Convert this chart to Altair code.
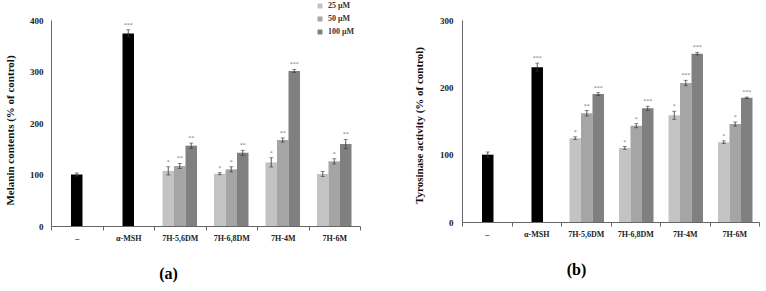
import altair as alt
import pandas as pd

categories = ["–", "α-MSH", "7H-5,6DM", "7H-6,8DM", "7H-4M", "7H-6M"]
controls = categories[:2]
compounds = categories[2:]
doses = ["25 μM", "50 μM", "100 μM"]

# Melanin contents (% of control)
mel_ctrl = [100, 374]
mel_ctrl_err = [3, 7]
mel_ctrl_star = ["", "***"]
mel_25 = [107, 101.5, 123.5, 101]
mel_50 = [116.5, 110, 167, 125.5]
mel_100 = [156, 142, 301, 159]
mel_25_err = [8, 2, 9, 5]
mel_50_err = [5, 5, 4, 5]
mel_100_err = [5, 5, 3, 9]
mel_25_star = ["*", "*", "*", ""]
mel_50_star = ["**", "*", "**", "*"]
mel_100_star = ["**", "**", "***", "**"]

# Tyrosinase activity (% of control)
tyr_ctrl = [100, 230]
tyr_ctrl_err = [4, 6]
tyr_ctrl_star = ["", "***"]
tyr_25 = [124.5, 110, 158.5, 118.5]
tyr_50 = [161.5, 143, 206.5, 145.5]
tyr_100 = [190, 169, 250, 184.5]
tyr_25_err = [2, 2, 6, 2]
tyr_50_err = [4, 3, 4, 3]
tyr_100_err = [2, 3, 2, 1]
tyr_25_star = ["*", "*", "*", "*"]
tyr_50_star = ["**", "*", "***", "*"]
tyr_100_star = ["***", "***", "***", "***"]

FONT = "Liberation Serif"
colors = ["#c3c3c3", "#a5a5a5", "#808080", "#000000"]


def build(ctrl, ctrl_err, ctrl_star, series, errs, stars):
    rows = []
    for c, v, e, s in zip(controls, ctrl, ctrl_err, ctrl_star):
        rows.append(dict(cat=c, dose="50 μM", series="ctrl", value=v, lo=v - e, hi=v + e, star=s))
    for d, vals, es, ss in zip(doses, series, errs, stars):
        for c, v, e, s in zip(compounds, vals, es, ss):
            rows.append(dict(cat=c, dose=d, series=d, value=v, lo=v - e, hi=v + e, star=s))
    return pd.DataFrame(rows)


def panel(df, ymax, ytitle, label, width, height, lx, ly, lpad, tpad, ty, dx):
    base = alt.Chart(df)
    x = alt.X("cat:N", sort=categories, scale=alt.Scale(paddingInner=0, paddingOuter=0),
              axis=alt.Axis(title=None, labelAngle=0, tickBand="extent", tickSize=4,
                            labelPadding=4, labelFont=FONT, labelFontSize=8,
                            labelFontWeight="bold", labelColor="#222",
                            domainColor="#666", tickColor="#666"))
    xo = alt.XOffset("dose:N", sort=doses,
                     scale=alt.Scale(domain=doses, paddingInner=0, paddingOuter=0.74))
    y = alt.Y("value:Q", scale=alt.Scale(domain=[0, ymax], nice=False),
              axis=alt.Axis(values=list(range(0, ymax + 1, 100)), title=ytitle, grid=False,
                            ticks=False, labelPadding=lpad, titlePadding=tpad, titleY=ty,
                            labelFont=FONT, labelFontSize=9, labelFontWeight="bold",
                            labelColor="#222", titleFont=FONT, titleFontSize=11,
                            titleFontWeight="bold", titleColor="#111",
                            domainColor="#666"))
    bars = base.mark_bar().encode(
        x=x, xOffset=xo, y=y,
        color=alt.Color("series:N",
                        scale=alt.Scale(domain=doses + ["ctrl"], range=colors),
                        legend=alt.Legend(values=doses, title=None, orient="none",
                                          legendX=lx, legendY=ly, symbolType="square",
                                          symbolSize=25, symbolStrokeWidth=0,
                                          labelFont=FONT, labelFontSize=8,
                                          labelFontWeight="bold", labelColor="#333",
                                          rowPadding=5)))
    rules = base.mark_rule(color="#333", strokeWidth=0.8).encode(
        x=x, xOffset=xo, y="lo:Q", y2="hi:Q")
    cap_hi = base.mark_tick(color="#333", size=4, thickness=0.8).encode(
        x=x, xOffset=xo, y="hi:Q")
    cap_lo = base.mark_tick(color="#333", size=4, thickness=0.8).encode(
        x=x, xOffset=xo, y="lo:Q")
    stars = base.mark_text(font=FONT, fontSize=6, color="#777", baseline="bottom", dy=-2).encode(
        x=x, xOffset=xo, y="hi:Q", text="star:N")
    return alt.layer(bars, rules, cap_hi, cap_lo, stars).properties(
        width=width, height=height,
        title=alt.TitleParams(label, orient="bottom", font=FONT, fontSize=16,
                              fontWeight="bold", anchor="middle", frame="group",
                              dx=dx, offset=24))


mel = build(mel_ctrl, mel_ctrl_err, mel_ctrl_star,
            [mel_25, mel_50, mel_100], [mel_25_err, mel_50_err, mel_100_err],
            [mel_25_star, mel_50_star, mel_100_star])
tyr = build(tyr_ctrl, tyr_ctrl_err, tyr_ctrl_star,
            [tyr_25, tyr_50, tyr_100], [tyr_25_err, tyr_50_err, tyr_100_err],
            [tyr_25_star, tyr_50_star, tyr_100_star])

left = panel(mel, 400, "Melanin contents (% of control)", "(a)", 309, 206, 265, -18, 8, 14, 110, -37)
right = panel(tyr, 300, "Tyrosinase activity (% of control)", "(b)", 297, 202, 261, -18, 9, 15, 105, -34)

chart = alt.hconcat(left, right, spacing=52).properties(
    padding={"left": 4, "top": 2, "right": 2, "bottom": 2}
).configure_view(stroke=None)

chart.save("out.html", embed_options={"renderer": "svg", "actions": False})
